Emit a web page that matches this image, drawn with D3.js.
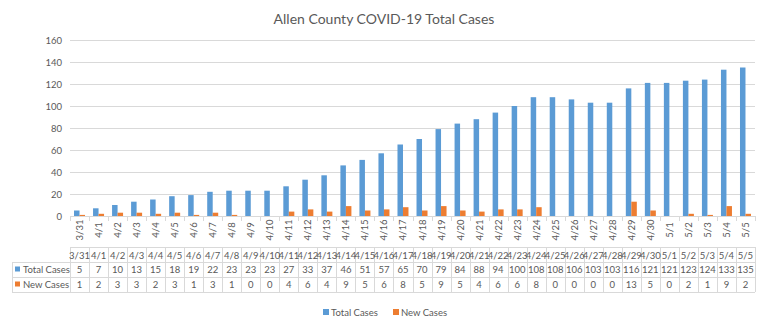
<!DOCTYPE html>
<html>
<head>
  <meta charset="utf-8">
  <script src="https://cdnjs.cloudflare.com/ajax/libs/d3/7.8.5/d3.min.js"></script>
  <title>Allen County COVID-19</title>
  <style>
    body { margin: 0; background: #fff; }
    text { font-family: Lato, "Liberation Sans", sans-serif; fill: #595959; }
  </style>
</head>
<body>
<script>
var fechas = ["3/31","4/1","4/2","4/3","4/4","4/5","4/6","4/7","4/8","4/9","4/10","4/11","4/12","4/13","4/14","4/15","4/16","4/17","4/18","4/19","4/20","4/21","4/22","4/23","4/24","4/25","4/26","4/27","4/28","4/29","4/30","5/1","5/2","5/3","5/4","5/5"];
var total = [5,7,10,13,15,18,19,22,23,23,23,27,33,37,46,51,57,65,70,79,84,88,94,100,108,108,106,103,103,116,121,121,123,124,133,135];
var nuevos = [1,2,3,3,2,3,1,3,1,0,0,4,6,4,9,5,6,8,5,9,5,4,6,6,8,0,0,0,0,13,5,0,2,1,9,2];
var ticksY = [0,20,40,60,80,100,120,140,160];
var series = [
  {nombre: "Total Cases", valores: total, color: "#5B9BD5"},
  {nombre: "New Cases", valores: nuevos, color: "#ED7D31"}
];

var w = 768, h = 329;
var svg = d3.select("body").append("svg").attr("width", w).attr("height", h);

var x = d3.scaleBand().domain(fechas).range([70, 755]);
var xs = d3.scaleBand().domain([0, 1]).range([0, 11]);
var y = d3.scaleLinear().domain([0, 160]).range([216, 40]);
var gris = "#d9d9d9";

// titulo
svg.append("text").attr("x", 384).attr("y", 24).attr("text-anchor", "middle")
  .attr("font-size", 14).text("Allen County COVID-19 Total Cases");

// grilla y etiquetas del eje y
svg.selectAll(".grid").data(ticksY).enter().append("line")
  .attr("x1", 70).attr("x2", 755)
  .attr("y1", d => Math.round(y(d)) + 0.5).attr("y2", d => Math.round(y(d)) + 0.5)
  .attr("stroke", gris);
svg.selectAll(".ylab").data(ticksY).enter().append("text")
  .attr("x", 62).attr("y", d => y(d) + 3.5).attr("text-anchor", "end")
  .attr("font-size", 9.5).text(d => d);

// barras
series.forEach(function(s, k) {
  svg.selectAll(".b" + k).data(s.valores).enter().append("rect")
    .attr("x", (d, i) => x(fechas[i]) + (x.bandwidth() - 11) / 2 + xs(k))
    .attr("width", xs.bandwidth())
    .attr("y", d => y(d))
    .attr("height", d => y(0) - y(d))
    .attr("fill", s.color);
});

// marcas del eje x
var bordes = fechas.map(f => x(f)).concat([755]);
svg.selectAll(".tick").data(bordes).enter().append("line")
  .attr("x1", d => Math.round(d) + 0.5).attr("x2", d => Math.round(d) + 0.5)
  .attr("y1", 216).attr("y2", 221).attr("stroke", gris);

// etiquetas rotadas
svg.selectAll(".xlab").data(fechas).enter().append("text")
  .attr("transform", d => "translate(" + (x(d) + x.bandwidth() / 2 + 3.5) + ",230) rotate(-90)")
  .attr("text-anchor", "middle").attr("font-size", 9.5).text(d => d);

// tabla de datos
var filas = [247, 262, 277, 292];
svg.selectAll(".hl").data(filas).enter().append("line")
  .attr("x1", (d, i) => i == 0 ? 70 : 12).attr("x2", 755)
  .attr("y1", d => d + 0.5).attr("y2", d => d + 0.5).attr("stroke", gris);
svg.selectAll(".vl").data(bordes).enter().append("line")
  .attr("x1", d => Math.round(d) + 0.5).attr("x2", d => Math.round(d) + 0.5)
  .attr("y1", 247).attr("y2", 292).attr("stroke", gris);
svg.append("line").attr("x1", 12.5).attr("x2", 12.5).attr("y1", 262).attr("y2", 292).attr("stroke", gris);

svg.selectAll(".th").data(fechas).enter().append("text")
  .attr("x", d => x(d) + x.bandwidth() / 2).attr("y", 258.5)
  .attr("text-anchor", "middle").attr("font-size", 9.5).text(d => d);

series.forEach(function(s, k) {
  var fy = filas[k + 1];
  svg.append("rect").attr("x", 15).attr("y", fy + 4.5).attr("width", 5).attr("height", 5).attr("fill", s.color);
  svg.append("text").attr("x", 23).attr("y", fy + 11).attr("font-size", 9.5).text(s.nombre);
  svg.selectAll(".td" + k).data(s.valores).enter().append("text")
    .attr("x", (d, i) => x(fechas[i]) + x.bandwidth() / 2).attr("y", fy + 11)
    .attr("text-anchor", "middle").attr("font-size", 9.5).text(d => d);
});

// leyenda
var ley = [{s: series[0], x: 323}, {s: series[1], x: 393}];
ley.forEach(function(l) {
  svg.append("rect").attr("x", l.x).attr("y", 309).attr("width", 6).attr("height", 6).attr("fill", l.s.color);
  svg.append("text").attr("x", l.x + 8).attr("y", 316).attr("font-size", 9.5).text(l.s.nombre);
});
</script>
</body>
</html>
